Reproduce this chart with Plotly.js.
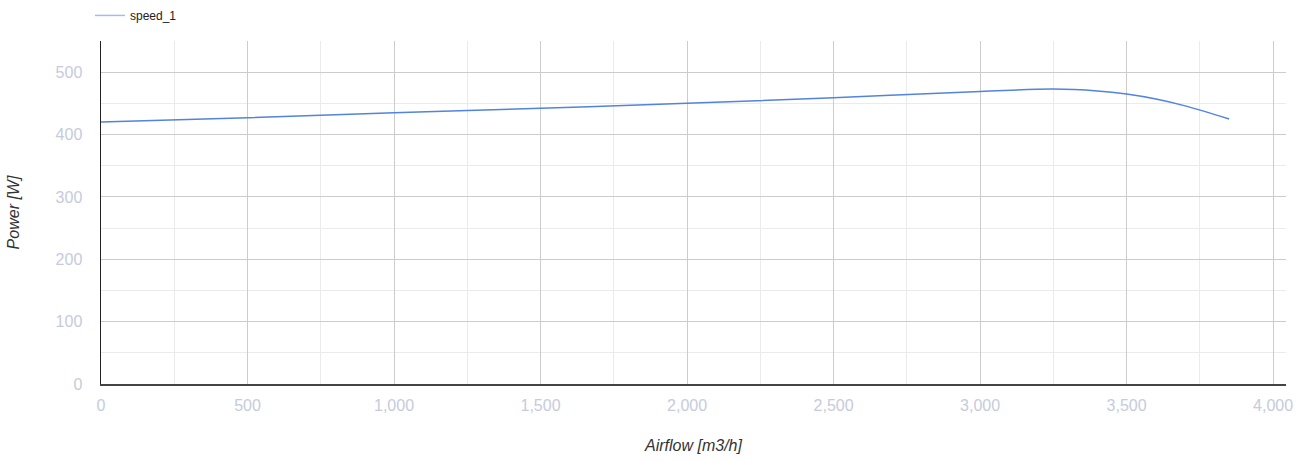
<!DOCTYPE html>
<html>
<head>
<meta charset="utf-8">
<script src="https://cdn.plot.ly/plotly-3.0.1.min.js"></script>
<style>html,body{margin:0;padding:0;background:#fff}#chart{width:1312px;height:461px}</style>
</head>
<body>
<div id="chart"></div>
<script>
const seriesName = 'speed_1';
const airflow = [0, 500, 1000, 1500, 2000, 2500, 3000, 3250, 3400, 3500, 3600, 3700, 3850];
const power = [420, 427, 435, 442, 450, 459, 469, 473, 470, 465, 457, 446, 425];
const xTitle = 'Airflow [m3/h]';
const yTitle = 'Power [W]';

const trace = {
  x: airflow, y: power, name: seriesName, type: 'scatter', mode: 'lines',
  line: {color: '#5283e0', width: 1.5, shape: 'spline', smoothing: 1},
  showlegend: true
};
const fam = 'Arial, Liberation Sans, sans-serif';
const tickFont = {family: fam, size: 16, color: '#c5cbdc'};
const layout = {
  width: 1312, height: 461,
  margin: {l: 101, r: 26, t: 41, b: 77, autoexpand: false},
  paper_bgcolor: '#fff', plot_bgcolor: '#fff',
  showlegend: true,
  legend: {x: -0.0093, y: 0.998, xanchor: 'left', yanchor: 'top', yref: 'container', orientation: 'h',
    font: {family: fam, size: 12, color: '#222'},
    itemwidth: 30, bgcolor: 'rgba(0,0,0,0)'},
  xaxis: {
    range: [0, 4044], tickvals: [0,500,1000,1500,2000,2500,3000,3500,4000],
    tickformat: ',d', tickfont: tickFont, automargin: false,
    showgrid: true, gridcolor: '#cccccc', gridwidth: 1,
    minor: {tickvals: [250,750,1250,1750,2250,2750,3250,3750], showgrid: true, gridcolor: '#ebebeb', gridwidth: 1},
    showline: true, linecolor: '#444', linewidth: 1.5,
    zeroline: false, ticks: 'outside', ticklen: 6, tickcolor: 'rgba(0,0,0,0)',
    title: {text: xTitle, font: {family: fam, size: 16, color: '#333'}, standoff: 27}
  },
  yaxis: {
    range: [0, 550], tickvals: [0,100,200,300,400,500], tickfont: tickFont, automargin: false,
    showgrid: true, gridcolor: '#cccccc', gridwidth: 1,
    minor: {tickvals: [50,150,250,350,450,550], showgrid: true, gridcolor: '#ebebeb', gridwidth: 1},
    showline: true, linecolor: '#222', linewidth: 1.5,
    zeroline: false, ticks: 'outside', ticklen: 14, tickcolor: 'rgba(0,0,0,0)',
    title: {text: yTitle, font: {family: fam, size: 16, color: '#333'}, standoff: 32}
  }
};
Plotly.newPlot('chart', [trace], layout, {displayModeBar: false, staticPlot: true}).then(() => {
  document.querySelectorAll('.g-xtitle text, .g-ytitle text').forEach(t => t.style.fontStyle = 'italic');
  document.querySelectorAll('.legend .legendlines path').forEach(p => p.style.stroke = '#a3bcef');
});
</script>
</body>
</html>
